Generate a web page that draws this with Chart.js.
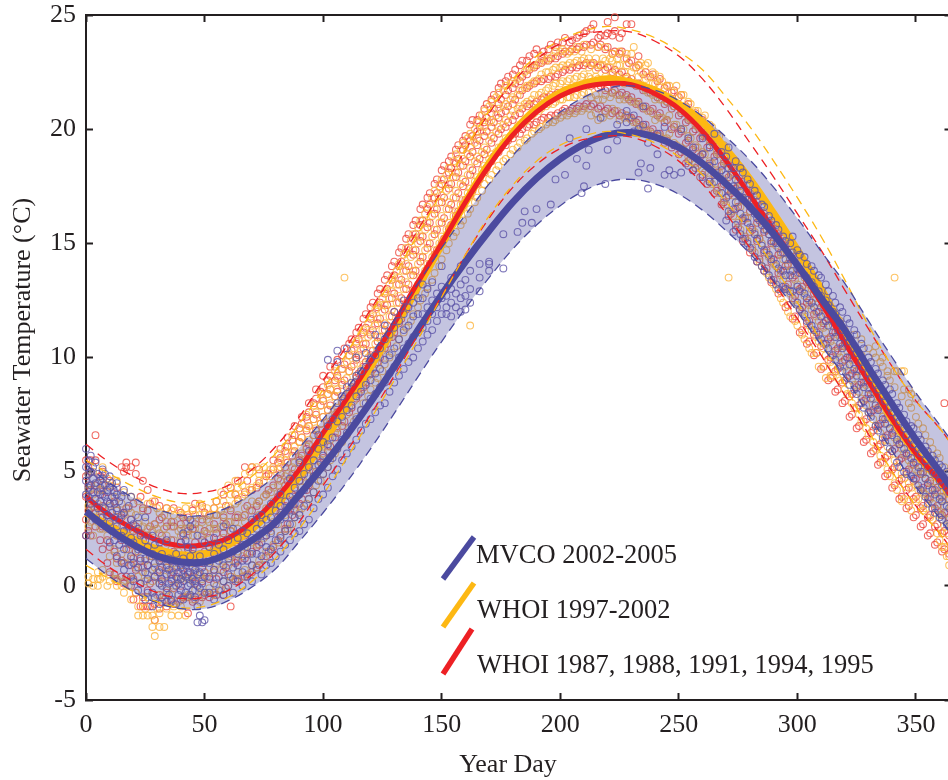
<!DOCTYPE html>
<html>
<head>
<meta charset="utf-8">
<title>Seawater Temperature</title>
<script src="https://cdn.jsdelivr.net/npm/chart.js@4/dist/chart.umd.min.js"></script>
<style>
  html, body { margin: 0; padding: 0; background: #fff; overflow: hidden; }
  #wrap { width: 948px; height: 780px; overflow: hidden; }
  canvas { display: block; }
</style>
</head>
<body>
<div id="wrap"><canvas id="chart" width="956" height="780"></canvas></div>
<script>
const xTickValues = [0, 50, 100, 150, 200, 250, 300, 350];
const yTickValues = [-5, 0, 5, 10, 15, 20, 25];
const legendLabels = ['MVCO 2002-2005', 'WHOI 1997-2002', 'WHOI 1987, 1988, 1991, 1994, 1995'];

const fitDays = [0,10,20,30,40,50,60,70,80,90,100,110,120,130,140,150,160,170,180,190,200,210,220,230,240,250,260,270,280,290,300,310,320,330,340,350,360,365];

const mvcoMean = [3.25,2.45,1.8,1.3,1.05,1.05,1.4,2.0,2.8,4.0,5.25,6.6,8.05,9.6,11.2,12.75,14.2,15.55,16.8,17.85,18.7,19.35,19.75,19.85,19.65,19.2,18.5,17.6,16.6,15.4,14.05,12.6,11.2,9.55,7.95,6.4,5.0,4.3];
const mvcoUpper = [5.3,4.5,3.85,3.35,3.1,3.1,3.45,4.05,4.85,6.05,7.3,8.65,10.1,11.65,13.25,14.8,16.25,17.6,18.85,19.9,20.75,21.4,21.8,21.9,21.7,21.25,20.55,19.65,18.65,17.45,16.1,14.65,13.25,11.6,10.0,8.45,7.05,6.35];
const mvcoLower = [1.2,0.4,-0.25,-0.75,-1.0,-1.0,-0.65,-0.05,0.75,1.95,3.2,4.55,6.0,7.55,9.15,10.7,12.15,13.5,14.75,15.8,16.65,17.3,17.7,17.8,17.6,17.15,16.45,15.55,14.55,13.35,12.0,10.55,9.15,7.5,5.9,4.35,2.95,2.25];

const whoiLateMean = [3.2,2.6,2.05,1.6,1.35,1.4,1.8,2.5,3.5,4.8,6.3,7.9,9.6,11.3,13.1,14.95,16.8,18.5,19.85,20.9,21.6,22.0,22.2,22.05,21.7,21.1,20.3,19.1,17.8,16.3,14.7,13.0,11.1,9.1,7.3,5.8,4.6,3.9];
const whoiLateUpper = [5.5,4.9,4.35,3.9,3.65,3.7,4.1,4.8,5.8,7.1,8.6,10.2,11.9,13.6,15.4,17.25,19.1,20.8,22.15,23.2,23.9,24.3,24.5,24.35,24.0,23.4,22.6,21.4,20.1,18.6,17.0,15.3,13.4,11.4,9.6,8.1,6.9,6.2];
const whoiLateLower = [0.9,0.3,-0.25,-0.7,-0.95,-0.9,-0.5,0.2,1.2,2.5,4.0,5.6,7.3,9.0,10.8,12.65,14.5,16.2,17.55,18.6,19.3,19.7,19.9,19.75,19.4,18.8,18.0,16.8,15.5,14.0,12.4,10.7,8.8,6.8,5.0,3.5,2.3,1.6];

const whoiEarlyMean = [3.9,3.1,2.5,2.0,1.75,1.8,2.1,2.8,3.8,5.1,6.7,8.2,9.8,11.5,13.3,15.0,16.8,18.4,19.75,20.75,21.45,21.85,22.0,21.95,21.55,20.9,19.9,18.6,17.1,15.6,14.0,12.4,10.65,8.95,7.3,5.8,4.6,3.9];
const whoiEarlyUpper = [6.2,5.4,4.8,4.3,4.05,4.1,4.4,5.1,6.1,7.4,9.0,10.5,12.1,13.8,15.6,17.3,19.1,20.7,22.05,23.05,23.75,24.15,24.3,24.25,23.85,23.2,22.2,20.9,19.4,17.9,16.3,14.7,12.95,11.25,9.6,8.1,6.9,6.2];
const whoiEarlyLower = [1.6,0.8,0.2,-0.3,-0.55,-0.5,-0.2,0.5,1.5,2.8,4.4,5.9,7.5,9.2,11.0,12.7,14.5,16.1,17.45,18.45,19.15,19.55,19.7,19.65,19.25,18.6,17.6,16.3,14.8,13.3,11.7,10.1,8.35,6.65,5.0,3.5,2.3,1.6];

const mvcoObs = [
[0,2.2,4.0,4.6,5.2,6.0],[2,3.6,4.4,5.0,5.7],[4,2.9,3.8,4.5,5.4],[7,3.0,4.0,4.7,5.1],[10,1.9,2.8,3.6,4.3,4.8],[13,1.3,2.6,3.4,4.0,4.5],
[16,0.7,1.6,2.4,3.2,4.2],[19,0.4,1.3,2.1,2.9,3.9],[22,-0.2,0.8,1.6,2.5,3.0],[25,-0.6,0.6,1.2,2.0,3.0],[28,-0.9,-0.3,0.7,1.4,2.2],[31,-0.8,0.1,0.6,1.1,1.9],
[34,-0.7,-0.1,0.5,0.9,2.0],[38,-0.8,0.0,0.4,0.8,1.4],[41,-0.6,0.2,0.7,1.2,2.3],[44,-0.4,0.1,0.6,1.3,2.6,2.9],[47,-1.6,-0.9,0.0,0.5,1.0,2.2],[50,-1.5,-0.3,0.4,1.0,1.9],
[54,-0.6,0.1,0.7,1.4,2.1],[58,-0.4,0.2,0.9,1.6,2.6],[62,-0.3,0.3,0.8,1.5,2.5],[66,0.0,0.6,1.1,1.8,2.4],[70,0.2,0.9,1.4,2.1,2.9],[74,0.5,1.3,1.9,2.7,3.1],
[78,1.0,1.6,2.3,3.0,3.6],[82,1.5,2.1,2.9,3.5,4.0],[86,2.0,2.7,3.3,3.9,4.7],[90,2.4,3.1,4.0,4.6,5.4],[94,2.9,3.8,4.5,5.2,5.9],[98,3.8,4.6,5.3,6.0,6.6],
[102,4.3,5.2,6.2,7.0,9.9],[106,5.1,6.0,7.2,8.0,9.8,10.3],[110,5.8,6.7,7.7,8.7,10.4],[114,6.4,7.3,8.3,9.2,10.0],[118,7.1,8.0,8.8,9.6,10.2],[122,7.6,8.4,9.3,10.1,11.0],
[126,8.0,8.9,9.9,10.8,11.4],[130,8.9,9.6,10.4,11.3,12.0],[134,9.5,10.4,11.2,11.9,12.5],[138,10.0,10.9,11.8,12.4],[142,10.7,11.3,11.9,12.6,13.2],[146,11.2,11.9,12.5,13.3],
[150,11.9,12.6,13.1,14.0],[154,11.8,12.4,13.0,13.5],[158,12.0,12.6,13.2,14.0],[162,12.4,13.0,13.8],[166,12.9,13.5,14.1],[170,13.8,14.1,14.2],
[176,13.9,15.4],[182,15.5],[184,15.9],[185,16.4],[188,15.9],[190,16.5],[196,16.7],[198,17.8],[202,18.0],[204,19.6],[207,18.7],[209,17.2],[210,17.5],[211,18.4,20.0],
[212,19.1],[217,20.5],[219,17.6],[220,19.1],[224,19.5,20.2],[228,20.8,20.3],[231,19.9,20.6],[233,18.1,20.0],[234,18.5],[235,21.0,20.2],[237,17.4,19.4],[238,18.3],
[241,18.9,19.8],[244,18.0,20.1],[246,18.2],[248,18.0,19.3],[251,18.1,20.0],[254,18.4,19.6],[256,18.2,19.2],[260,17.9,18.9,19.6],[263,17.7,18.4,19.2],[265,17.7,18.6,19.8],
[268,17.2,18.2,19.0],[271,16.4,17.3,18.3,19.2],[274,15.8,16.8,17.8,18.6],[277,15.2,16.1,17.0,18.1],[280,14.8,15.7,16.6,17.6],[283,14.2,15.2,16.1,17.1],
[286,13.8,14.7,15.6,16.6],[289,13.4,14.3,15.1,16.0],[292,13.0,13.9,14.8,15.6],[295,13.0,13.6,14.3,15.1],[298,12.9,13.8,14.6,15.3],[301,12.1,12.9,13.7,14.5],
[304,11.6,12.6,13.5,14.1],[307,11.2,12.2,13.1,13.8],[310,10.8,11.8,12.7,13.5],[313,10.4,11.4,12.3,12.9],[316,9.9,10.9,11.9,12.4],[319,9.4,10.4,11.2,12.0],
[322,8.8,9.7,10.7,11.5],[325,8.4,9.2,10.2,11.0],[328,7.8,8.7,9.6,10.4],[331,7.4,8.2,9.1,9.8],[334,6.8,7.7,8.6,9.3],[337,6.3,7.1,8.1,8.8],[340,5.9,6.6,7.6,8.4],
[343,5.2,6.2,7.2,7.8],[346,4.9,5.8,6.6,7.2],[349,4.7,5.4,6.2,6.9],[352,4.2,5.0,5.8,6.4],[355,3.6,4.4,5.2,5.9],[358,3.2,4.0,4.9,5.5],[361,2.9,3.7,4.4,5.2],[364,2.6,3.4,4.1,4.9]
];
const mvcoObsDense = [
[1,3.9,4.3,4.9,5.5],[3,4.1,4.7,5.2],[5,3.4,4.1,4.9],[6,3.7,4.3,4.6],[8,3.4,3.9,4.4,4.9],[9,3.1,3.7,4.2],[11,2.4,3.2,3.9,4.5],[12,2.0,3.0,3.6,4.1],[14,1.8,2.9,3.7],[15,1.0,2.2,3.1,3.9],[18,0.9,1.9,2.6,3.5],[20,0.2,1.0,1.9,2.7],[23,0.1,1.2,2.2],
[26,-0.3,0.3,0.9,1.7],[29,-0.5,0.4,1.0,1.8],[32,-0.5,0.0,0.3,0.8,1.4],[35,-0.4,0.1,0.7,1.2],[36,-0.6,0.2,0.5,1.1],[39,-0.4,0.1,0.6,1.0],[40,-0.2,0.3,0.8,1.9],[42,-0.3,0.4,0.9,2.0],[43,0.0,0.5,1.0,1.7],[45,-0.2,0.3,0.8,1.6],[46,-0.5,0.2,0.7],[48,-1.3,-0.1,0.6,1.3],[49,-1.6,0.1,0.8],
[52,-0.3,0.4,1.0,1.7],[56,-0.2,0.4,1.1,1.8],[60,0.0,0.5,1.2,2.0],[64,0.2,0.9,1.4,2.1],[68,0.4,1.1,1.7,2.3],[72,0.7,1.4,2.0,2.5,3.0],[76,0.9,1.7,2.2,2.9],[80,1.3,2.0,2.7,3.3],[84,1.8,2.4,3.0,3.7],[88,2.3,3.0,3.6,4.3],[92,2.7,3.5,4.2,4.9],[96,3.4,4.1,4.8,5.5],[100,4.0,4.9,5.7,6.3],
[104,4.8,5.6,6.5,7.3],[108,5.5,6.4,7.4,8.3],[112,6.1,7.0,7.9,8.9],[116,6.8,7.7,8.5,9.4],[120,7.3,8.2,9.0,9.9],[124,7.9,8.7,9.5,10.4],[128,8.5,9.3,10.1,11.0],[132,9.2,10.0,10.8,11.6],[136,9.8,10.6,11.4,12.2],[140,10.4,11.1,11.9,12.6],[144,11.0,11.6,12.2,13.0],[148,11.6,12.2,12.8],[152,11.9,12.2,12.7],[156,12.2,12.8],[160,12.1,12.7,13.4],
[270,16.0,17.0,18.0,18.8],[273,15.5,16.5,17.5,18.3],[276,15.4,16.3,17.3,18.3],[279,15.0,15.9,16.9,17.8],[282,14.4,15.4,16.3,17.3],[285,14.0,14.9,15.8,16.7],[288,13.6,14.5,15.4,16.2],[291,13.2,14.1,15.0,15.8],[294,13.1,13.8,14.6,15.3],[297,12.9,13.6,14.3,15.0],
[300,12.4,13.1,13.9,14.7],[303,11.9,12.8,13.6,14.4],[306,11.4,12.4,13.3,14.0],[309,11.0,12.0,12.9,13.6],[312,10.6,11.6,12.5,13.2],[315,10.1,11.1,12.0,12.7],[318,9.6,10.6,11.5,12.2],[321,9.1,10.0,10.9,11.7],[324,8.6,9.5,10.4,11.2],[327,8.0,8.9,9.8,10.6],[330,7.6,8.4,9.3,10.0],[333,7.0,7.9,8.8,9.5],[336,6.5,7.3,8.3,9.0],[339,6.0,6.9,7.8,8.6],[342,5.4,6.4,7.4,8.0],[345,5.0,6.0,6.9,7.5],[348,4.8,5.6,6.4,7.0],[351,4.4,5.2,6.0,6.6],[354,3.9,4.7,5.5,6.1],[357,3.4,4.2,5.0,5.7],[360,3.0,3.8,4.6,5.3],[363,2.7,3.5,4.3,5.0]
];

const whoiLateObs = [
[1,0.1,0.4,2.6,3.5,4.2,4.9],[3,0.0,0.3,2.2,3.2,4.0,5.0],[5,0.0,0.3,0.6,2.8,3.6,4.5],[7,0.4,0.7,2.5,3.4,4.2,5.2],[10,0.2,0.5,1.3,2.6,3.5,4.4],[13,0.0,0.3,1.0,2.2,3.3,4.6],
[16,-0.3,0.2,1.0,2.3,3.1,4.1],[19,-0.6,0.3,1.2,2.1,3.2,3.9],[22,-1.3,-0.9,0.4,1.5,2.7,3.7],[24,-1.3,-0.7,0.6,1.8,2.6,3.3],[26,-1.3,-0.5,0.5,1.6,2.5,3.6],[28,-1.8,-1.3,0.2,1.3,2.4,3.7],
[29,-2.2,-1.5,0.8,2.7],[31,-1.8,-1.2,0.1,1.1,2.3,3.2],[33,-1.8,-0.6,0.4,1.4,2.5,3.1],[36,-1.3,-0.4,0.7,1.6,2.6,3.3],[39,-1.3,-0.7,0.3,1.5,2.4,3.3],[42,-1.3,-0.5,0.4,1.3,2.5,2.8,3.4],
[45,-0.6,0.2,1.0,2.2,2.8,3.4],[48,-0.7,0.5,1.4,2.5,3.1,3.6],[51,-0.3,0.4,1.2,2.3,2.9,3.4],[54,-0.4,0.6,1.5,2.5,3.1,3.4],[57,-0.2,0.7,1.8,2.6,3.3,4.1],[60,0.0,0.9,2.0,2.8,3.5,4.4],
[63,0.3,1.1,2.2,2.8,3.6,4.0,4.6],[66,0.4,1.3,2.4,3.0,3.9,4.4],[69,0.5,1.4,2.5,3.3,4.2,5.0],[72,0.8,1.8,2.8,3.6,4.4,5.2],[75,1.2,2.1,3.1,3.9,4.6,5.2],[78,1.5,2.4,3.4,4.1,4.8,5.1],
[81,1.9,2.7,3.7,4.4,5.1,5.8],[84,2.4,3.1,4.0,4.8,5.5,6.1],[87,2.7,3.5,4.4,5.2,5.9,6.6],[90,3.2,4.0,4.8,5.6,6.3,6.9],[93,3.6,4.5,5.3,6.1,6.9,7.5],[96,4.1,5.0,5.8,6.6,7.3,7.9],
[99,4.6,5.5,6.3,7.1,7.9,8.4],[102,5.2,6.1,6.9,7.7,8.4,8.8],[105,5.8,6.7,7.5,8.3,8.9,9.4],[108,6.3,7.2,8.1,8.9,9.5],[109,13.5],[111,6.9,7.8,8.6,9.4,10.1],[114,7.4,8.3,9.2,10.0,10.7],
[117,8.0,8.9,9.7,10.6,11.2],[120,8.6,9.4,10.3,11.1,11.8],[123,9.1,10.0,10.9,11.7,12.3],[126,9.7,10.6,11.5,12.3,12.9],[129,10.2,11.2,12.1,12.9,13.5],[132,10.8,11.8,12.7,13.5,14.1],
[135,11.3,12.3,13.3,14.1,14.8],[138,11.9,12.9,13.8,14.7,15.4],[141,12.5,13.5,14.4,15.3,16.0],[144,13.1,14.1,15.0,15.9,16.6],[147,13.7,14.7,15.6,16.5,17.3],[150,14.3,15.3,16.2,17.1,17.8],
[153,15.0,15.9,16.8,17.6,18.3],[156,15.5,16.4,17.3,18.1,18.9],[159,16.0,16.9,17.8,18.7,19.4],[162,11.4,16.5,17.4,18.3,19.2,19.8],[165,17.0,17.9,18.8,19.6,20.3],[168,17.6,18.4,19.2,20.1,20.8],
[171,18.0,18.9,19.7,20.4,21.2],[174,18.4,19.2,20.1,20.9,21.6],[177,18.7,19.6,20.4,21.1,21.9],[180,19.1,19.9,20.8,21.4,22.1],[183,19.4,20.2,21.0,21.7,22.3],[186,19.6,20.4,21.2,21.9,22.6],
[189,19.9,20.7,21.5,22.1,22.8],[192,20.1,20.9,21.6,22.4,23.1],[195,20.3,21.1,21.8,22.5,23.1],[198,20.4,21.2,22.0,22.7,23.4],[201,20.6,21.3,22.1,22.8,23.5],[204,20.7,21.4,22.2,22.9,23.4],
[207,20.8,21.5,22.3,23.0,23.6],[210,20.9,21.6,22.4,23.1,23.7],[213,20.6,21.4,22.2,22.9,23.5],[216,20.4,21.3,22.2,22.8,23.6],[219,20.7,21.5,22.3,23.0,23.6],[222,20.9,21.6,22.4,23.0,23.3],
[225,20.4,21.3,22.1,22.8,23.4],[228,20.6,21.4,22.2,22.8,23.3],[231,20.3,21.2,22.0,22.7,23.6],[234,20.1,21.0,21.9,22.5,22.9],[237,19.9,20.8,21.6,22.3,22.9],[240,20.4,21.3,22.0,22.4],
[243,19.6,20.5,21.3,22.1],[246,19.8,20.6,21.4,21.9],[249,19.3,20.2,21.1,21.9],[252,19.1,20.0,20.9,21.5],[255,18.7,19.6,20.4,21.1],[258,18.4,19.2,20.1,20.8],[261,18.1,18.9,19.7,20.6],
[264,17.6,18.5,19.4,20.1],[267,17.2,18.1,18.9,19.7],[270,16.7,17.6,18.5,19.2],[271,13.5],[273,16.2,17.1,18.0,18.7],[276,15.6,16.6,17.5,18.3],[279,15.1,16.1,17.0,17.8],[282,14.6,15.5,16.4,17.2],
[285,14.0,15.0,15.9,16.6],[288,13.5,14.4,15.4,16.2],[291,13.0,14.0,14.9,15.7],[294,12.4,13.4,14.3,15.1],[297,11.8,12.8,13.8,14.6],[300,11.4,12.3,13.2,14.1],[303,10.8,11.8,12.7,13.5],
[306,10.2,11.2,12.1,13.0],[309,9.6,10.7,11.6,12.4],[312,9.1,10.1,11.1,11.9],[315,9.2,9.6,10.5,11.4],[318,9.0,10.0,10.9,11.6],[321,8.4,9.4,10.3,11.0],[324,7.8,8.8,9.7,10.4,11.0],
[327,7.2,8.2,9.2,10.1,10.8],[330,6.6,7.6,8.6,9.5,10.4],[333,6.0,7.0,8.0,9.0,10.0,10.5],[336,5.4,6.4,7.4,8.4,9.6,10.0],[339,4.8,5.8,6.9,7.8,9.0],[341,13.5],[342,4.2,5.2,6.3,7.3,9.4],
[345,3.8,4.7,5.8,6.8,8.6,9.4],[348,3.3,4.3,5.3,6.3,7.8,8.4],[351,3.8,4.2,5.0,5.9,7.1],[354,3.4,4.0,4.7,5.5,6.6],[357,2.9,3.6,4.3,5.2,6.0],[360,2.0,3.1,3.9,4.8,5.6],[362,1.7,2.6,3.5,4.4,5.2],[364,0.9,1.3,2.9,3.8,4.6]
];
const whoiLateObsDense = [
[2,2.8,3.6,4.4],[6,0.3,2.5,3.3,4.2],[9,0.0,2.2,3.0,4.7],[12,0.3,1.6,2.9,3.9],[15,0.0,1.4,2.6,3.6],[18,0.0,1.6,2.5,3.4],[21,-0.3,0.8,2.2,3.1],[25,-1.0,0.2,1.1,2.8],[30,-1.0,-0.4,0.6,2.5,3.4],[34,-1.0,-0.2,0.8,2.2,2.8,3.4],[37,-0.9,0.0,1.0,2.0,2.8,3.1],[40,-0.9,0.3,0.9,2.2,2.5,3.1],[43,-0.4,0.3,1.1,2.2,2.5,3.1],[46,-0.2,0.6,1.3,2.5,3.1],[49,-0.3,0.3,1.4,2.2,2.8,3.4],
[52,-0.1,0.8,1.7,2.5,2.8,3.1],[55,0.0,1.0,1.9,2.5,3.1,3.7],[58,0.2,1.1,2.1,2.8,3.1,3.7],[61,0.4,1.3,2.4,2.8,3.4,4.0],[64,0.6,1.5,2.5,3.1,3.7,4.3],[67,0.7,1.7,2.8,3.4,4.0,4.9],[70,0.9,1.9,2.8,3.7,4.3,5.2],[73,1.1,2.2,3.1,3.7,4.6,4.9],[76,1.5,2.5,3.4,4.0,4.9],[79,1.8,2.8,3.7,4.3,5.2],[82,2.2,3.1,4.0,4.6,5.2,5.5],[85,2.5,3.4,4.3,4.9,5.8],[88,3.0,3.8,4.6,5.4,6.1],[91,3.4,4.3,5.1,5.8,6.5],[94,3.8,4.8,5.6,6.4,7.0],[97,4.4,5.2,6.1,6.9,7.6],[100,4.9,5.8,6.6,7.4,8.2],
[103,5.5,6.4,7.2,8.0,8.6],[106,6.0,6.9,7.8,8.6,9.1],[110,6.6,7.5,8.4,9.1,9.8],[113,7.2,8.1,8.9,9.7,10.4],[116,7.7,8.6,9.5,10.3,11.0],[119,8.3,9.2,10.0,10.9,11.5],[122,8.9,9.7,10.6,11.4,12.1],[125,9.4,10.3,11.2,12.0,12.6],[128,10.0,10.9,11.8,12.6,13.2],[131,10.5,11.5,12.4,13.2,13.8],[134,11.1,12.1,13.0,13.8,14.5],[137,11.6,12.6,13.6,14.4,15.1],[140,12.2,13.2,14.1,15.0,15.7],[143,12.8,13.8,14.7,15.6,16.3],[146,13.4,14.4,15.3,16.2,17.0],[149,14.0,15.0,15.9,16.8,17.5],[152,14.7,15.6,16.5,17.3,18.0],[155,15.3,16.2,17.0,17.9,18.6],[158,15.8,16.7,17.6,18.4,19.1],[161,16.3,17.2,18.0,18.9,19.6],[164,16.8,17.7,18.6,19.4,20.0],[167,17.3,18.2,19.0,19.9,20.6],[170,17.8,18.7,19.5,20.3,21.0],
[173,18.2,19.0,19.9,20.6,21.4],[176,18.6,19.4,20.2,21.0,21.7],[179,18.9,19.7,20.6,21.3,22.0],[182,19.2,20.1,20.9,21.5,22.2],[185,19.5,20.3,21.1,21.8,22.5],[188,19.8,20.6,21.3,22.0,22.7],[191,20.0,20.8,21.5,22.2,22.9],[194,20.2,21.0,21.7,22.5,23.0],[197,20.3,21.1,21.9,22.6,23.2],[200,20.5,21.3,22.0,22.7,23.4],[203,20.6,21.4,22.1,22.8,23.3],[206,20.7,21.4,22.2,22.9,23.4],[209,20.8,21.5,22.3,23.0,23.4],[212,20.9,21.6,22.3,22.7,23.1],[215,20.7,21.5,22.3,22.6,23.1],[218,20.5,21.3,22.1,22.8,23.1],[221,20.6,21.4,22.2,22.7,23.1],[224,20.8,21.5,22.3,22.8,23.1],[227,20.5,21.3,22.0,22.5,23.1],[230,20.4,21.2,22.0,22.5,23.3],[233,20.2,21.1,21.9,22.3,22.8],[236,20.0,20.9,21.7,22.2,22.8],[239,19.8,20.7,21.5,22.0,22.5],[242,19.7,20.5,21.3,21.9,22.3],[245,19.6,20.4,21.2,21.9],[248,19.4,20.2,21.0,21.6],[251,19.2,20.0,20.8,21.5],[254,18.8,19.7,20.5,21.2],[257,18.5,19.3,20.2,20.8],[260,18.2,19.0,19.8,20.5],[263,17.8,18.6,19.5,20.2],
[266,17.4,18.2,19.0,19.8],[269,16.9,17.8,18.6,19.3],[272,16.4,17.3,18.1,18.8],[275,15.9,16.8,17.7,18.4],[278,15.3,16.2,17.2,18.0],[281,14.8,15.7,16.6,17.4],[284,14.2,15.2,16.1,16.9],[287,13.7,14.6,15.6,16.4],[290,13.2,14.1,15.0,15.9],[293,12.6,13.6,14.5,15.3],[296,12.0,13.0,14.0,14.8],[299,11.6,12.5,13.4,14.3],[302,11.0,12.0,12.9,13.7],[305,10.4,11.4,12.3,13.2],[308,10.2,10.9,11.8,12.6],[311,9.6,10.4,11.3,12.1],[314,9.2,9.8,10.7,11.6],[317,9.1,10.2,11.0],[320,8.6,9.6,10.5,11.2],[323,8.0,9.0,9.9,10.6],[326,7.5,8.5,9.4,10.2],[329,6.9,7.9,8.8,9.7],[332,6.3,7.3,8.2,9.2,10.2],[335,5.7,6.7,7.7,8.7,9.8],[338,5.1,6.1,7.1,8.1,9.2,9.4],[341,4.5,5.5,6.5,7.6,8.7,9.4],[344,3.7,4.9,6.0,7.0,8.3,9.4],[347,3.7,4.5,5.5,6.5,8.0,8.6],[350,3.7,4.4,5.1,6.1,7.4,8.2],[353,3.3,4.1,4.9,5.7,6.9],[356,3.0,3.8,4.5,5.3,6.3],[359,2.3,3.3,4.1,4.9,5.8],[361,1.7,2.9,3.7,4.6],[363,1.3,2.3,3.2,4.1]
];

const whoiEarlyObs = [
[0,2.2,2.9,3.9,4.8,5.5],[2,2.2,3.4,4.2,5.0,5.5],[4,2.6,3.2,4.4,5.5,6.6],[7,1.6,2.6,3.5,4.4,5.0],[10,0.6,1.7,2.7,3.6,4.6],[13,0.2,1.2,2.2,3.3,4.3],[15,0.4,1.1,2.0,3.0,5.2],
[17,0.4,1.6,2.4,3.4,5.4,5.2],[19,0.0,0.9,1.8,2.9,5.2],[21,-0.3,0.7,1.5,2.6,5.4,4.9],[24,-0.9,-0.5,0.8,2.0,3.4,4.6],[26,-0.9,-0.2,0.9,2.2,3.3,4.2],[29,-1.5,-0.8,0.4,1.5,2.7,3.7],
[31,-1.0,-0.4,0.7,1.6,2.9,3.5],[34,-0.9,-0.3,0.8,1.9,2.6,3.4],[37,-0.8,-0.1,0.6,1.5,2.6,3.4],[40,-0.6,0.0,0.9,1.9,2.7,3.2],[43,-1.2,-0.5,0.6,1.6,2.4,3.0],[46,-0.6,0.1,1.0,1.9,2.7,3.6],
[49,-0.5,0.2,1.0,2.0,2.9,3.5],[52,-0.5,0.3,1.2,2.1,3.1],[55,-0.4,0.3,1.3,2.3,3.1,3.7],[58,-0.4,0.6,1.5,2.3,3.0,4.0],[61,-0.9,0.4,1.4,2.4,3.3,4.3],[64,0.3,1.1,2.0,3.0,3.8,4.6],
[67,0.4,1.2,2.2,3.1,4.1,5.2],[70,0.6,1.5,2.5,3.3,4.2,5.2],[73,0.9,1.8,2.8,3.7,4.5,5.1],[76,1.3,2.2,3.2,4.0,4.8],[79,1.7,2.7,3.6,4.4,5.1,5.5],[82,2.2,3.2,4.1,4.9,5.6,6.0],
[85,2.7,3.7,4.6,5.4,6.1,6.5],[88,3.3,4.2,5.1,5.9,6.6,7.0],[91,3.8,4.8,5.7,6.5,7.1,7.4],[94,4.4,5.3,6.2,7.0,7.6,8.0],[97,5.0,5.9,6.8,7.5,8.2,8.6],[100,5.6,6.5,7.4,8.1,8.7,9.2],
[103,6.1,7.1,7.9,8.6,9.2,9.6],[106,6.7,7.6,8.5,9.2,9.9],[109,7.2,8.2,9.0,9.7,10.4],[112,7.8,8.7,9.6,10.3,10.8],[115,8.4,9.3,10.1,10.8,11.3],[118,8.9,9.8,10.6,11.3,11.9],
[121,9.5,10.3,11.2,11.9,12.4],[124,10.0,10.9,11.7,12.4,13.0],[127,10.6,11.4,12.3,13.0,13.6],[130,11.1,12.0,12.8,13.6,14.2],[133,11.7,12.6,13.4,14.2,14.8],[136,12.3,13.2,14.0,14.8,15.4],
[139,12.9,13.8,14.7,15.4,16.0],[142,13.5,14.4,15.3,16.0,16.7],[145,14.1,15.0,15.9,16.7,17.2],[148,14.7,15.6,16.5,17.2,17.8],[151,15.2,16.1,17.0,17.8,18.4],[154,15.8,16.7,17.6,18.3,18.8],
[157,16.4,17.2,18.1,18.7,19.3],[160,16.9,17.7,18.6,19.3,19.7],[163,17.3,18.2,19.0,19.7,20.4],[166,17.8,18.7,19.5,20.1,20.6],[169,18.3,19.1,19.9,20.5,21.1],[172,18.8,19.6,20.3,20.9,21.5],
[175,19.2,20.0,20.7,21.3,22.0],[178,19.5,20.3,21.0,21.7,22.3],[181,19.8,20.6,21.3,22.0,22.6],[184,20.0,20.9,21.7,22.3,23.0],[187,20.2,21.1,21.9,22.6,23.2],[190,20.3,21.2,22.1,22.8,23.5],
[193,20.5,21.4,22.2,23.0,23.4],[196,20.6,21.5,22.3,23.1,23.7],[199,20.7,21.6,22.4,23.2,23.8],[202,20.9,21.7,22.6,23.4,24.0],[205,20.9,21.8,22.7,23.5,23.9],[208,21.0,21.9,22.8,23.6,24.1],
[211,21.1,22.0,22.9,23.7,24.3],[214,21.1,22.0,22.9,23.8,24.6],[217,21.0,21.9,22.8,23.7,24.1],[220,20.9,21.8,22.7,23.6,24.2,24.7],[223,20.8,21.7,22.6,23.4,24.3,24.9],[226,20.7,21.6,22.5,23.4,24.2],
[228,20.6,21.5,22.3,23.1,24.6],[230,20.5,21.4,22.2,23.0,24.6],[233,20.4,21.2,22.0,22.8,23.2],[236,20.2,21.0,21.8,22.5],[239,20.0,20.9,21.7,22.4],[242,19.8,20.7,21.5,22.2],[245,19.5,20.4,21.2,21.9],
[248,19.3,20.1,21.0,21.7],[251,19.0,19.9,20.7,21.5],[254,18.6,19.5,20.4,21.1],[257,18.3,19.2,20.0,20.7],[260,18.0,18.9,19.7,20.4],[263,17.7,18.5,19.3,20.0],[266,17.3,18.1,18.9,19.6],
[269,16.8,17.6,18.5,19.2],[272,16.3,17.2,18.0,18.7],[275,15.7,16.6,17.5,18.4],[278,15.2,16.1,17.0,17.8],[281,14.7,15.6,16.5,17.3],[284,14.3,15.2,16.0,16.9],[287,13.9,14.7,15.6,16.4],
[290,13.4,14.3,15.1,15.9],[293,12.9,13.8,14.6,15.5],[296,12.3,13.2,14.1,15.0],[299,11.8,12.7,13.6,14.4],[302,11.2,12.2,13.1,14.0],[305,10.7,11.6,12.5,13.4],[308,10.2,11.1,12.0,12.9],
[311,9.6,10.6,11.5,12.3],[314,9.1,10.0,10.9,11.8],[317,8.6,9.5,10.4,11.2],[320,8.1,9.0,9.9,10.6],[323,7.5,8.4,9.3,10.1],[326,7.0,7.9,8.8,9.5],[329,6.4,7.3,8.2,9.0],[332,5.9,6.8,7.7,8.5],
[335,5.4,6.2,7.1,7.9],[338,4.9,5.7,6.6,7.4],[341,4.4,5.2,6.0,6.8],[344,3.9,4.7,5.6,6.3],[347,3.5,4.3,5.1,5.8],[350,3.1,3.9,4.7,5.4],[353,2.7,3.5,4.3,5.0],[356,2.3,3.1,3.9,4.6],[359,1.9,2.7,3.5,4.3],[362,1.6,2.4,3.2,8.0],[364,1.4,2.2,3.0,3.8]
];
const whoiEarlyObsDense = [
[1,2.4,3.3,4.4,5.2],[6,2.0,3.0,4.0,4.8],[9,1.0,2.0,3.1,4.1],[12,0.5,1.5,2.5,3.7],[16,0.1,1.0,2.3,3.2,5.0],[20,-0.6,0.3,1.2,2.4,3.6],[23,-0.9,0.1,1.1,2.3,3.9],[27,-0.9,0.1,1.3,2.6,3.6],[32,-0.7,0.2,1.2,2.2,3.0],[36,-0.7,0.3,1.1,2.0,2.8],[41,-0.5,0.5,1.3,2.2,3.0],[45,-0.7,0.4,1.4,2.5,3.3],[50,-0.4,0.6,1.5,2.4,3.2],[54,-0.3,0.7,1.6,2.7,3.4],[59,-0.1,0.8,1.8,2.7,3.5],[63,0.2,1.0,1.9,3.0,4.0],[68,0.5,1.4,2.4,3.5,4.6],[72,0.8,1.7,2.7,3.5,4.3],[77,1.5,2.5,3.4,4.2,4.9],
[81,2.0,3.0,3.9,4.7,5.4],[84,2.5,3.5,4.4,5.2,5.9],[87,3.1,4.0,4.9,5.7,6.4],[90,3.6,4.6,5.5,6.3,6.9],[93,4.2,5.1,6.0,6.8,7.4],[96,4.8,5.7,6.6,7.3,8.0],[99,5.4,6.3,7.1,7.9,8.5],[102,5.9,6.9,7.7,8.4,9.0],[105,6.5,7.4,8.3,9.0,9.6],[108,7.0,8.0,8.8,9.5,10.1],[111,7.6,8.5,9.4,10.1,10.6],[114,8.2,9.1,9.9,10.6,11.1],[117,8.7,9.6,10.4,11.1,11.7],[120,9.3,10.1,11.0,11.7,12.2],[123,9.8,10.7,11.5,12.2,12.8],[126,10.4,11.2,12.1,12.8,13.4],[129,10.9,11.8,12.6,13.4,14.0],[132,11.5,12.4,13.2,14.0,14.6],[135,12.1,13.0,13.8,14.6,15.2],[138,12.7,13.6,14.5,15.2,15.8],[141,13.3,14.2,15.1,15.8,16.5],[144,13.9,14.8,15.7,16.5,17.0],[147,14.5,15.4,16.3,17.0,17.6],[150,15.0,15.9,16.8,17.6,18.2],[153,15.6,16.5,17.4,18.1,18.6],[156,16.2,17.0,17.9,18.5,19.1],[159,16.7,17.5,18.4,19.1,19.5],[162,17.1,18.0,18.8,19.5,20.2],[165,17.6,18.5,19.3,19.9,20.4],[168,18.1,18.9,19.7,20.3,20.9],[171,18.6,19.4,20.1,20.7,21.3],[174,19.0,19.8,20.5,21.1,21.8],[177,19.3,20.1,20.8,21.5,22.1],[180,19.6,20.4,21.1,21.8,22.4],[183,19.8,20.7,21.5,22.1,22.8],[186,20.1,21.0,21.8,22.4,23.0],[189,20.2,21.1,22.0,22.7,23.3],[192,20.4,21.3,22.1,22.9,23.2],[195,20.5,21.4,22.2,23.0,23.5],[198,20.6,21.5,22.3,23.1,23.6],[201,20.8,21.6,22.5,23.3,23.8],[204,20.8,21.7,22.6,23.4,23.8],[207,20.9,21.8,22.7,23.5,24.0],[210,21.0,21.9,22.8,23.6,24.2],[213,21.0,21.9,22.8,23.7,24.4],[216,20.9,21.8,22.7,23.6,24.0],[219,20.8,21.7,22.6,23.5,24.1],[222,20.7,21.6,22.5,23.3,24.1],[225,20.6,21.5,22.4,23.3,24.0],
[229,20.5,21.3,22.1,22.9],[232,20.3,21.1,21.9,22.7],[235,20.1,20.9,21.7,22.4],[238,19.9,20.8,21.6,22.3],[241,19.7,20.6,21.4,22.1],[244,19.4,20.3,21.1,21.8],[247,19.2,20.0,20.9,21.6],[250,18.9,19.8,20.6,21.4],[253,18.5,19.4,20.3,21.0],[256,18.2,19.1,19.9,20.6],[259,17.9,18.8,19.6,20.3],[262,17.6,18.4,19.2,19.9],[265,17.2,18.0,18.8,19.5],[268,16.7,17.5,18.4,19.1],[271,16.2,17.1,17.9,18.6],[274,15.6,16.5,17.4,18.3],[277,15.1,16.0,16.9,17.7],[280,14.6,15.5,16.4,17.2],[283,14.2,15.1,15.9,16.8],[286,13.8,14.6,15.5,16.3],[289,13.3,14.2,15.0,15.8],[292,12.8,13.7,14.5,15.4],[295,12.2,13.1,14.0,14.9],[298,11.7,12.6,13.5,14.3],[301,11.1,12.1,13.0,13.9],[304,10.6,11.5,12.4,13.3],[307,10.1,11.0,11.9,12.8],[310,9.5,10.5,11.4,12.2],[313,9.0,9.9,10.8,11.7],[316,8.5,9.4,10.3,11.1],[319,8.0,8.9,9.8,10.5],[322,7.4,8.3,9.2,10.0],[325,6.9,7.8,8.7,9.4],[328,6.3,7.2,8.1,8.9],[331,5.8,6.7,7.6,8.4],[334,5.3,6.1,7.0,7.8],[337,4.8,5.6,6.5,7.3],[340,4.3,5.1,5.9,6.7],[343,3.8,4.6,5.5,6.2],[346,3.4,4.2,5.0,5.7],[349,3.0,3.8,4.6,5.3],[352,2.6,3.4,4.2,4.9],[355,2.2,3.0,3.8,4.5],[358,1.8,2.6,3.4,4.2],[361,1.5,2.3,3.1,3.9]
];

function fitLine(values) {
  return values.map((y, i) => ({ x: fitDays[i], y }));
}

function obsPoints(rows) {
  return rows.flatMap(r => r.slice(1).map(y => ({ x: r[0], y })));
}

const TEXT = '#231f20';
const SERIF = '"Liberation Serif", "Times New Roman", serif';

function obsSet(rows, colour, order) {
  return {
    type: 'scatter', data: obsPoints(rows), order, clip: false,
    pointRadius: 3.4, pointHoverRadius: 3.4, pointBorderWidth: 1.1,
    pointBorderColor: colour, pointBackgroundColor: 'transparent'
  };
}

function fitSet(values, colour, width, order, extra) {
  return Object.assign({
    type: 'line', data: fitLine(values), order, borderColor: colour, borderWidth: width,
    pointRadius: 0, tension: 0.4, fill: false, clip: false
  }, extra || {});
}

const datasets = [
  obsSet(whoiEarlyObs.concat(whoiEarlyObsDense), 'rgba(238,70,60,0.8)', 12),
  obsSet(whoiLateObs.concat(whoiLateObsDense), 'rgba(253,180,60,0.8)', 11),
  fitSet(mvcoLower, 'rgba(0,0,0,0)', 0, 10),
  fitSet(mvcoUpper, 'rgba(0,0,0,0)', 0, 9, { fill: { target: 2 }, backgroundColor: 'rgba(73,72,160,0.32)' }),
  fitSet(whoiLateMean, '#fdb813', 7.5, 8),
  fitSet(whoiEarlyMean, '#ed2024', 5, 7),
  obsSet(mvcoObs.concat(mvcoObsDense), 'rgba(92,84,168,0.8)', 6),
  fitSet(mvcoMean, '#4b4a9f', 7, 5),
  fitSet(whoiEarlyUpper, '#ed2024', 1.3, 4, { borderDash: [9, 6] }),
  fitSet(whoiEarlyLower, '#ed2024', 1.3, 4, { borderDash: [9, 6] }),
  fitSet(whoiLateUpper, '#fdb813', 1.3, 3, { borderDash: [9, 6] }),
  fitSet(whoiLateLower, '#fdb813', 1.3, 3, { borderDash: [9, 6] }),
  fitSet(mvcoUpper, '#4b4a9f', 1.3, 2, { borderDash: [9, 6] }),
  fitSet(mvcoLower, '#4b4a9f', 1.3, 2, { borderDash: [9, 6] })
];

// slanted legend keys and axis titles sit off-centre in the original
const annotations = {
  id: 'annotations',
  afterDraw(chart) {
    const ctx = chart.ctx;
    const keys = [
      ['#4b4a9f', 443, 579, 474, 537, 476, 563],
      ['#fdb813', 443, 627, 474, 583, 477, 618],
      ['#ed2024', 443, 674, 472, 629, 477, 673]
    ];
    ctx.save();
    ctx.font = '26.5px ' + SERIF;
    ctx.fillStyle = TEXT;
    ctx.textBaseline = 'alphabetic';
    keys.forEach((k, i) => {
      ctx.strokeStyle = k[0];
      ctx.lineWidth = 5.5;
      ctx.beginPath();
      ctx.moveTo(k[1], k[2]);
      ctx.lineTo(k[3], k[4]);
      ctx.stroke();
      ctx.fillText(legendLabels[i], k[5], k[6]);
    });
    ctx.font = '26px ' + SERIF;
    ctx.textAlign = 'center';
    ctx.fillText('Year Day', 508, 772);
    ctx.translate(30, 340);
    ctx.rotate(-Math.PI / 2);
    ctx.fillText('Seawater Temperature (°C)', 0, 0);
    ctx.restore();
  }
};

function frameGrid() {
  return { display: true, drawOnChartArea: false, drawTicks: true, tickLength: -7, tickWidth: 2, tickColor: TEXT };
}

new Chart(document.getElementById('chart'), {
  data: { datasets },
  plugins: [annotations],
  options: {
    responsive: false,
    animation: false,
    events: [],
    layout: { padding: 0 },
    plugins: { legend: { display: false }, tooltip: { enabled: false } },
    scales: {
      x: {
        type: 'linear', position: 'bottom', min: 0, max: 365,
        grid: frameGrid(), border: { color: TEXT, width: 2 },
        afterBuildTicks: s => { s.ticks = xTickValues.map(value => ({ value })); },
        afterFit: s => { s.height = 80; s.paddingLeft = 0; s.paddingRight = 0; },
        ticks: { color: TEXT, font: { family: SERIF, size: 26 }, padding: 17, maxRotation: 0, autoSkip: false }
      },
      xTop: {
        type: 'linear', position: 'top', min: 0, max: 365,
        grid: frameGrid(), border: { color: TEXT, width: 2 },
        afterBuildTicks: s => { s.ticks = xTickValues.map(value => ({ value })); },
        afterFit: s => { s.height = 15; s.paddingLeft = 0; s.paddingRight = 0; },
        ticks: { display: false }
      },
      y: {
        type: 'linear', position: 'left', min: -5, max: 25,
        grid: frameGrid(), border: { color: TEXT, width: 2 },
        afterBuildTicks: s => { s.ticks = yTickValues.map(value => ({ value })); },
        afterFit: s => { s.width = 86; s.paddingTop = 0; s.paddingBottom = 0; },
        ticks: { color: TEXT, font: { family: SERIF, size: 26 }, padding: 17, autoSkip: false }
      },
      yRight: {
        type: 'linear', position: 'right', min: -5, max: 25,
        grid: frameGrid(), border: { color: TEXT, width: 2 },
        afterBuildTicks: s => { s.ticks = yTickValues.map(value => ({ value })); },
        afterFit: s => { s.width = 1; s.paddingTop = 0; s.paddingBottom = 0; },
        ticks: { display: false }
      }
    }
  }
});
</script>
</body>
</html>
